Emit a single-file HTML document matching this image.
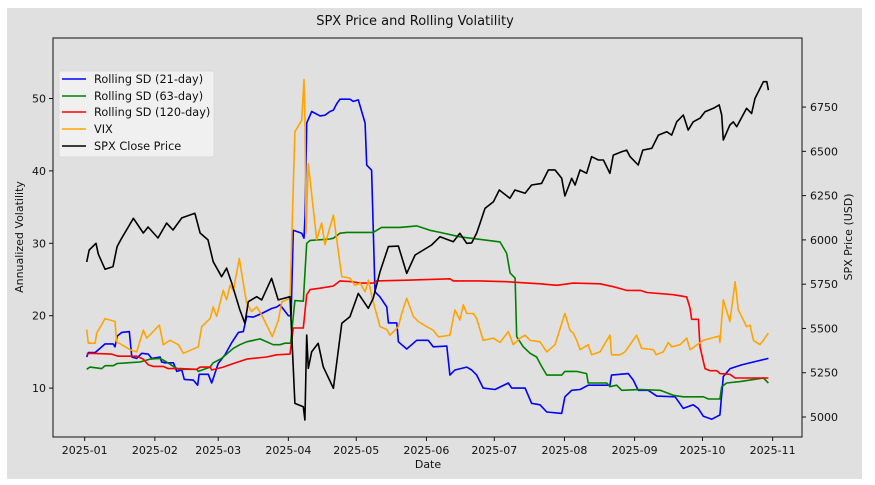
<!DOCTYPE html>
<html><head><meta charset="utf-8">
<style>
html,body{margin:0;padding:0;background:#fff;}
svg{display:block;font-family:"DejaVu Sans","Liberation Sans",sans-serif;}
</style></head>
<body>
<svg id="chart" width="875" height="485" viewBox="0 0 875 485">
<rect x="7" y="8" width="855" height="471" fill="#e0e0e0"/>
<text x="415" y="25" text-anchor="middle" font-size="13" fill="#111">SPX Price and Rolling Volatility</text>
<g id="marks"></g>
<g id="axes"></g>
<rect x="53" y="38" width="749" height="399" fill="none" stroke="#111" stroke-width="1"/>
<text transform="translate(23,237) rotate(-90)" text-anchor="middle" font-size="11" fill="#111">Annualized Volatility</text>
<text transform="translate(852,237) rotate(-90)" text-anchor="middle" font-size="11" fill="#111">SPX Price (USD)</text>
<text x="428" y="468" text-anchor="middle" font-size="11" fill="#111">Date</text>
<g>
<rect x="59" y="71" width="155" height="86" rx="2" fill="#f2f2f2" fill-opacity="0.9" stroke="#d6d6d6" stroke-width="0.8"/>
<line x1="62" y1="79" x2="86" y2="79" stroke="#0000ff" stroke-width="1.6"/>
<text x="94" y="83" font-size="11.3" fill="#111">Rolling SD (21-day)</text>
<line x1="62" y1="96" x2="86" y2="96" stroke="#008000" stroke-width="1.6"/>
<text x="94" y="100" font-size="11.3" fill="#111">Rolling SD (63-day)</text>
<line x1="62" y1="112" x2="86" y2="112" stroke="#ff0000" stroke-width="1.6"/>
<text x="94" y="116" font-size="11.3" fill="#111">Rolling SD (120-day)</text>
<line x1="62" y1="129" x2="86" y2="129" stroke="#ffa500" stroke-width="1.6"/>
<text x="94" y="133" font-size="11.3" fill="#111">VIX</text>
<line x1="62" y1="146" x2="86" y2="146" stroke="#000" stroke-width="1.6"/>
<text x="94" y="150" font-size="11.3" fill="#111">SPX Close Price</text>
</g>
</svg>
<script>
// Day offsets from 2025-01-01 and values
const monthTickLabels = ["2025-01","2025-02","2025-03","2025-04","2025-05","2025-06","2025-07","2025-08","2025-09","2025-10","2025-11"];
const monthTickDays = [0,31,59,90,120,151,181,212,243,273,304];
const leftTicks = [10,20,30,40,50];
const rightTicks = [5000,5250,5500,5750,6000,6250,6500,6750];

const sd21Days = [0.9,1.6,4.6,9,12.6,13.4,14.4,16.4,19.7,20.8,23,25.2,28.1,29.6,33.3,34,35.5,39.2,40.7,42.9,44,48,49.9,50.6,54.6,56.1,59,62,65,67.9,70.1,71.6,74.5,78.2,82.6,84.8,86.3,90,91.2,92.2,95.9,96.9,97.4,98.1,100.3,104,106.2,108.4,109.9,111.4,112.8,117.2,118.7,120.9,123.9,124.6,126.8,128.3,130.5,133.5,134.2,137.9,138.6,142.3,146.7,151.8,154,160,161.4,163.6,168.8,171,173.2,176.1,181.3,187.2,188.7,194.6,197.5,201.2,204.2,210.8,212.2,215.2,218.9,222.5,232.1,232.8,240.2,242.4,244.6,249,252.8,260.9,264.5,268.9,271.1,273.4,277.1,280.7,282.2,285.2,290.3,295.5,302.1];
const sd21Vals = [14.3,14.9,14.9,16.1,16.1,15.7,17.2,17.7,17.8,14.3,14.1,14.8,14.7,14.1,14.3,13.6,13.5,13.5,12.3,12.5,11.2,11.1,10.4,11.9,11.9,10.7,13.4,14.6,16.3,17.7,17.8,19.9,19.8,20.3,21,21.2,21.5,20,20,31.8,31.4,30.7,34,46.6,48.2,47.6,47.7,48.2,48.4,49.3,49.9,49.9,49.6,49.8,46.6,40.8,40.1,23.3,22.6,21.2,19,19,16.4,15.4,16.6,16.6,15.7,15.8,11.8,12.5,12.9,12.5,11.8,10,9.8,10.7,10,10,7.9,7.7,6.7,6.5,8.8,9.7,9.8,10.4,10.4,11.8,12,11.1,9.7,9.7,8.9,8.8,7.2,7.7,7.2,6.1,5.7,6.3,11.6,12.7,13.2,13.6,14.1];

const sd63Days = [0.9,2.3,7.5,9,12.6,14.4,24.4,28.9,33.3,36.2,39.2,41.4,49.5,50.2,55.4,56.8,60.5,65.7,68.6,71.6,77.5,83.3,86.3,88.5,91,92.9,96.6,98.1,99.6,108.4,109.9,112.8,115.8,127.5,131.2,139.3,146.7,152.6,157,165.8,183.5,186.5,188,190.2,190.9,193.8,196.8,199.7,201.9,204.2,210.8,212.2,217.4,221.8,222.5,230.7,232.1,235.1,237.3,245.5,254.3,260.1,264.5,273.4,275.6,280.7,281.5,283.7,289.6,299.9,302.1];
const sd63Vals = [12.6,12.9,12.7,13.1,13.1,13.4,13.6,14,14.1,13.6,13,12.6,12.6,12.3,12.9,13.5,14.1,15.5,16,16.4,16.8,16,16,16.2,16.2,22.1,22,30,30.4,30.6,30.7,31.4,31.5,31.5,32.2,32.2,32.4,31.8,31.5,30.9,30.2,28.6,25.9,25.2,17.1,15.7,14.8,14.3,13,11.8,11.8,12.3,12.3,12,10.7,10.7,10.2,10.4,9.7,9.8,9.7,9,8.8,8.8,8.5,8.5,10.2,10.7,10.9,11.4,10.7];

const sd120Days = [0.9,2.3,11.9,14.8,23,25.9,28.1,30.3,34.7,36.9,42.1,49.5,51,55.4,56.1,61.2,65.7,71.6,80.4,84.8,90.7,92.2,96.6,98.1,99.6,104,109.9,112.8,118,121.7,127.5,129,142.3,161.4,162.9,174.7,186.5,201.2,208.6,215.9,227.7,233.6,239.5,245.5,248.4,260.1,266,267.5,268.2,271.2,271.9,274.1,276.3,279.3,280.7,285.1,287.4,302.1];
const sd120Vals = [14.7,14.8,14.7,14.4,14.4,14,13.2,13,13,12.7,12.7,12.6,12.9,12.9,12.5,12.9,13.4,14,14.3,14.6,14.7,18.3,18.3,22.9,23.6,23.8,24.1,24.8,24.7,24.5,24.5,24.8,24.9,25.1,24.8,24.8,24.7,24.4,24.2,24.5,24.4,24,23.5,23.5,23.2,22.9,22.6,21,19.5,19.5,15.7,12.7,12.4,12.4,12,11.9,11.4,11.4];

const vixDays = [0.9,1.6,4.6,5.3,9,11.2,13.4,14.1,16.4,20,23,25.9,27.4,29.6,33,34.7,37.7,41.4,43.6,48.7,50.2,51.7,55.4,56.8,58.3,61.2,62.7,64.2,65.7,68.3,70.1,71.6,73.8,76,78.2,82.9,85.6,87.1,90.7,92.9,95.9,96.9,97.4,97.8,98.8,102.5,104.7,106.2,109.9,113.6,117.2,119.4,121.7,123.9,125.4,126.9,130.5,133.5,134.9,138.6,140.1,142.3,145.2,147.4,151.1,154,156.3,157,161.4,163.6,165.8,167.3,168.8,171.7,173.2,176.1,180.6,183.5,187.2,189.4,192.4,194.6,196.8,201.2,204.2,207.8,212.2,214.4,215.9,217.4,218.9,222.5,224,227.7,232.1,232.8,236.5,238.7,243.9,246.1,251.3,252.5,255.7,257.9,259.4,263.1,266,267.5,273.4,280.4,280.7,282.2,285.1,287.4,288.8,292.5,294,295.5,298.4,302.1];
const vixVals = [18.1,16.2,16.2,17.6,19.6,19.4,19.2,16.4,16,15.3,15,18,16.9,17.6,18.7,16,16.6,16,14.8,15.5,15.7,18.5,19.6,21.2,19.9,23.5,22.2,24.2,23.5,27.9,24.5,21.7,20.6,21.2,20.1,17.1,19.4,21.9,22.4,45.4,47,52.6,45.9,31.4,41,30.5,32.8,29.8,33.9,25.4,25.2,24.2,24.5,23.3,24.9,22.6,18.5,18.1,17.3,18.5,20.3,22.4,19.9,19.2,18.5,18,17.1,17.1,17.3,20.8,19.4,21.5,20.3,20.3,19.6,16.6,16.9,16.3,17.8,16,16.9,17.3,16.6,16.4,15,16,20.3,18,17.6,16.6,15.3,16,14.6,15,17.3,14.6,14.6,15,17.3,15.5,15.3,14.6,15,16.3,15.7,16,16.9,15.3,16.6,17.2,16.3,22.2,19.2,24.7,20.8,18.5,18.7,16.6,16,17.6];

const spxDays = [0.9,2,5,6,9,12.5,14.3,16.3,21.5,25.9,28,32.4,36.2,39,42.9,48.7,51,54.5,56.8,60.5,62.7,65,68.6,70.8,72.3,76,78.2,82.6,85.5,90.7,92.9,96.6,97.3,98.1,98.8,100.3,103.2,105.4,109.9,113.6,117.2,120.9,125.3,127.5,130.5,134.2,138.6,142.3,146,153.3,157,162.9,165.8,168.8,171,173.2,174.7,176.9,180.6,183.2,187.9,190.1,194.6,197.5,201.9,204.9,207.8,210.8,212.2,215.2,216.7,218.9,221.8,224,227,229.2,232.1,233.6,237.3,239.5,241,244.6,246.6,250.6,253.5,257.2,259.4,261.6,264.5,266.7,268.9,271.9,274.1,277.8,280.4,281.5,282.2,285.1,286.6,288.1,292.5,294.7,296.2,299.9,301.4,302.1];
const spxVals = [5875,5943,5981,5920,5834,5849,5962,6009,6122,6039,6073,6011,6095,6056,6124,6150,6039,6000,5877,5792,5841,5755,5604,5529,5651,5679,5661,5783,5661,5679,5077,5058,4983,5463,5275,5369,5416,5284,5162,5529,5566,5698,5614,5670,5820,5962,5965,5811,5915,5971,6018,5990,6037,5981,5983,6039,6093,6178,6215,6282,6235,6282,6263,6310,6319,6395,6395,6348,6248,6348,6310,6395,6376,6470,6451,6451,6376,6479,6498,6507,6470,6423,6507,6517,6592,6611,6592,6667,6705,6620,6667,6687,6724,6743,6762,6705,6564,6649,6667,6639,6743,6714,6799,6893,6893,6846];

const NS = "http://www.w3.org/2000/svg";
function xS(d){ return 84.7 + d * 2.263; }
function yL(v){ return 388.1 - (v - 10) * 7.24; }
function yR(p){ return 417 - (p - 5000) * 0.1771; }

const marks = document.getElementById("marks");
const axes = document.getElementById("axes");

function drawLine(days, vals, yFn, color, name){
  const pts = days.map((d,i)=> xS(d).toFixed(1)+","+yFn(vals[i]).toFixed(1)).join(" ");
  const pl = document.createElementNS(NS,"polyline");
  pl.setAttribute("points", pts);
  pl.setAttribute("fill","none");
  pl.setAttribute("stroke",color);
  pl.setAttribute("stroke-width","1.6");
  pl.setAttribute("stroke-linejoin","round");
  
  
  marks.appendChild(pl);
}
drawLine(sd21Days, sd21Vals, yL, "#0000ff", "line-rolling-sd-21");
drawLine(sd63Days, sd63Vals, yL, "#008000", "line-rolling-sd-63");
drawLine(sd120Days, sd120Vals, yL, "#ff0000", "line-rolling-sd-120");
drawLine(vixDays, vixVals, yL, "#ffa500", "line-vix");
drawLine(spxDays, spxVals, yR, "#000000", "line-spx-close");

function mk(tag, attrs){
  const e = document.createElementNS(NS, tag);
  for (const k in attrs) e.setAttribute(k, attrs[k]);
  axes.appendChild(e);
  return e;
}
monthTickDays.forEach((d,i)=>{
  const x = xS(d);
  const t = mk("line",{x1:x,y1:437,x2:x,y2:441,stroke:"#111"});
  
  
  const l = mk("text",{x:x,y:454,"text-anchor":"middle","font-size":"11",fill:"#111"});
  l.textContent = monthTickLabels[i];
  
  
});
leftTicks.forEach(v=>{
  const y = yL(v);
  const t = mk("line",{x1:49,y1:y,x2:53,y2:y,stroke:"#111"});
  
  
  const l = mk("text",{x:46,y:y+4,"text-anchor":"end","font-size":"11",fill:"#111"});
  l.textContent = v;
  
  
});
rightTicks.forEach(v=>{
  const y = yR(v);
  const t = mk("line",{x1:802,y1:y,x2:806,y2:y,stroke:"#111"});
  
  
  const l = mk("text",{x:810,y:y+4,"text-anchor":"start","font-size":"11",fill:"#111"});
  l.textContent = v;
  
  
});
</script>
</body></html>
